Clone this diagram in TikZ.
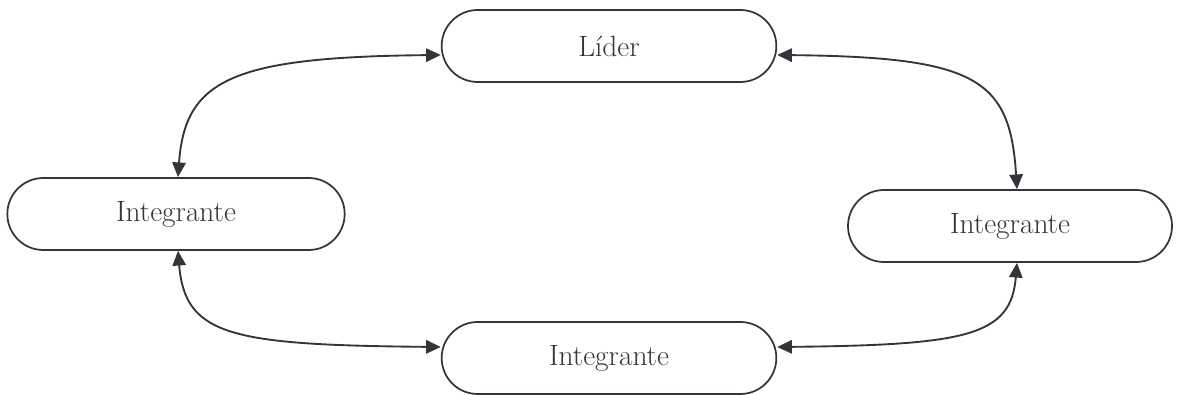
\documentclass[tikz,border=0pt]{standalone}
\usepackage{tikz}
\usetikzlibrary{calc,arrows.meta,positioning,shapes.misc}
\definecolor{linegray}{RGB}{52,52,58}

\begin{document}
\begin{tikzpicture}[x=0.75pt, y=-0.75pt,
    every node/.style={font=\fontsize{22}{26}\selectfont, text=linegray},
    rolebox/.style={draw=linegray, line width=1.3pt, rounded rectangle,
      minimum height=54pt, inner sep=0pt},
    link/.style={draw=linegray, line width=1.4pt,
      {Triangle[length=11pt, width=10pt]}-{Triangle[length=11pt, width=10pt]}}]
  \useasboundingbox (0,0) rectangle (1178,395);
  % roles
  \node[rolebox, minimum width=251pt] (lider) at (609,46) {Líder};
  \node[rolebox, minimum width=253pt] (intL) at (176,214) {Integrante};
  \node[rolebox, minimum width=243pt] (intR) at (1010,226) {Integrante};
  \node[rolebox, minimum width=251pt] (intB) at (609,358) {Integrante};
  % links between roles
  \draw[link] ($(intL.north)+(2,0)$) .. controls +(7,-97) and +(-210,2) .. ($(lider.west)+(0,9)$);
  \draw[link] ($(lider.east)+(0,9)$) .. controls +(200,2) and +(-7,-110) .. ($(intR.north)+(7,0)$);
  \draw[link] ($(intL.south)+(2,0)$) .. controls +(7,85) and +(-210,-2) .. ($(intB.west)+(0,-11)$);
  \draw[link] ($(intB.east)+(0,-11)$) .. controls +(190,-2) and +(-6,73) .. ($(intR.south)+(7,0)$);
\end{tikzpicture}
\end{document}
